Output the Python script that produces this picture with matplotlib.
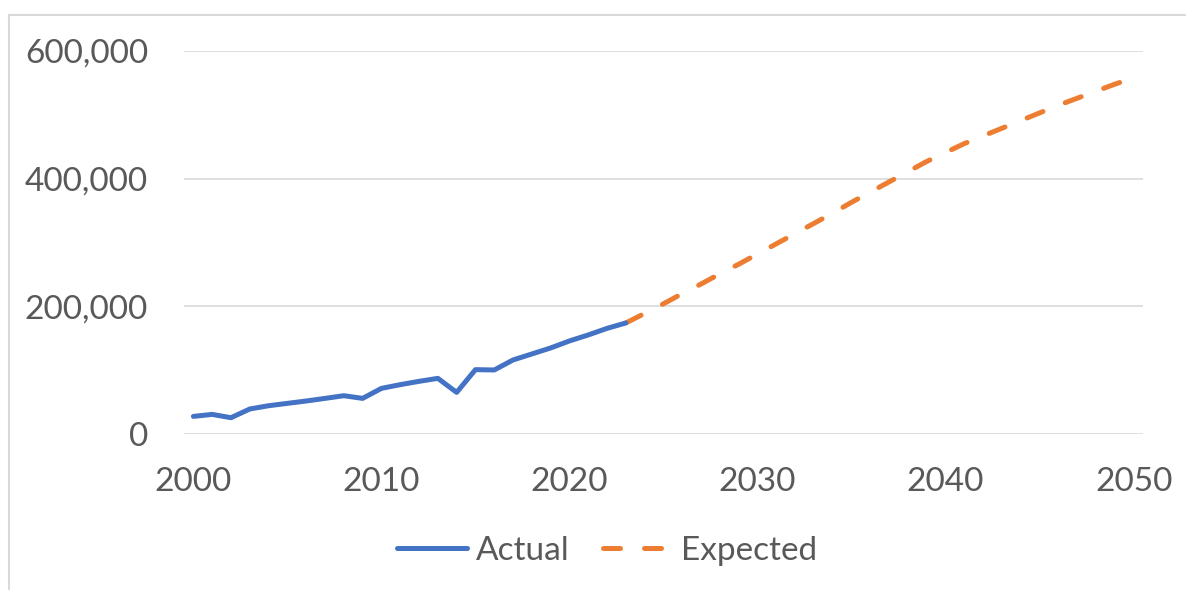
import matplotlib
matplotlib.use('Agg')
import matplotlib.pyplot as plt
import matplotlib.ticker as mticker
from matplotlib.lines import Line2D

plt.rcParams['font.family'] = ['Lato', 'DejaVu Sans']

# ── data ────────────────────────────────────────────
ACTUAL_YEARS = list(range(2000, 2024))
ACTUAL_VALS = [27600, 30700, 25500, 39200, 44300, 48000, 51700, 55800, 60000, 55800,
               71500, 77300, 82500, 87200, 65200, 100800, 100300, 116000, 125400, 134800,
               145800, 155200, 165500, 174000]

EXPECTED_YEARS = list(range(2023, 2051))
EXPECTED_VALS = [174000, 189000, 204000, 220000, 235000, 251000, 266000, 282000, 298000, 314000,
                 330000, 346000, 363000, 379000, 395000, 411000, 427000, 441000, 455000, 467000,
                 479000, 491000, 503000, 515000, 526000, 537000, 548000, 558000]

X_TICKS = [2000, 2010, 2020, 2030, 2040, 2050]
Y_TICKS = [0, 200000, 400000, 600000]

BLUE = '#4472C4'
ORANGE = '#ED7D31'
GRID = '#D9D9D9'
TXT = '#595959'

# ── figure ──────────────────────────────────────────
fig = plt.figure(figsize=(11.86, 5.90), dpi=100)
ax = fig.add_axes([184 / 1186, 1 - 434 / 590, (1143 - 184) / 1186, (434 - 51) / 590])

ax.plot(ACTUAL_YEARS, ACTUAL_VALS, color=BLUE, linewidth=3.6,
        solid_capstyle='round', solid_joinstyle='round', label='Actual', zorder=3)
ax.plot(EXPECTED_YEARS, EXPECTED_VALS, color=ORANGE, linewidth=3.6,
        dashes=(3.4, 4.8), dash_capstyle='round', label='Expected', zorder=2)

ax.set_xlim(1999.5, 2050.5)
ax.set_ylim(0, 600000)
ax.set_xticks(X_TICKS)
ax.set_yticks(Y_TICKS)
ax.yaxis.set_major_formatter(mticker.FuncFormatter(lambda v, _: f'{v:,.0f}'))

ax.grid(axis='y', color=GRID, linewidth=1.2)
ax.set_axisbelow(True)
for s in ax.spines.values():
    s.set_visible(False)
ax.tick_params(axis='both', length=0, labelsize=24, labelcolor=TXT)
ax.tick_params(axis='y', pad=26)
ax.tick_params(axis='x', pad=24)

# chart-area border (cropped at right and bottom)
fig.add_artist(Line2D([9 / 1186, 1.0], [1 - 15 / 590, 1 - 15 / 590],
                      color=GRID, linewidth=1.5, transform=fig.transFigure))
fig.add_artist(Line2D([9 / 1186, 9 / 1186], [0, 1 - 15 / 590],
                      color=GRID, linewidth=1.5, transform=fig.transFigure))

fig.legend(loc='center', bbox_to_anchor=(0.512, 0.066), ncol=2, frameon=False,
           fontsize=24, labelcolor=TXT, handlelength=2.1, handletextpad=0.25,
           columnspacing=1.0)

fig.savefig('out.png', dpi=100)
